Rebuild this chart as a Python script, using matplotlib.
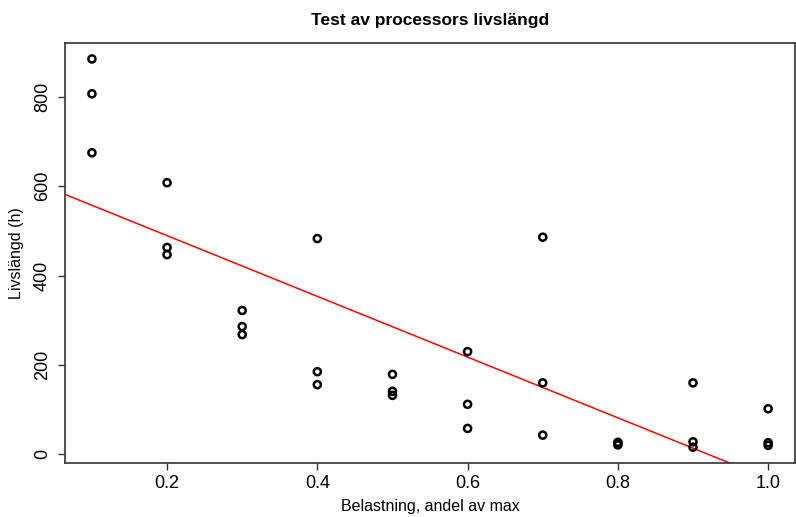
import matplotlib
matplotlib.use("Agg")
import matplotlib.pyplot as plt
import numpy as np

plt.rcParams['font.family'] = ['Liberation Sans', 'DejaVu Sans']

belastning = [0.1, 0.1, 0.1, 0.2, 0.2, 0.2, 0.3, 0.3, 0.3, 0.4, 0.4, 0.4,
              0.5, 0.5, 0.5, 0.6, 0.6, 0.6, 0.7, 0.7, 0.7, 0.8, 0.8, 0.8,
              0.9, 0.9, 0.9, 1.0, 1.0, 1.0]
livslangd = [885, 807, 675, 608, 463, 447, 322, 286, 268, 483, 185, 156,
             179, 141, 132, 230, 112, 58, 486, 160, 43, 21, 24, 27,
             160, 28, 16, 102, 26, 20]
xticks = [0.2, 0.4, 0.6, 0.8, 1.0]
xticklabels = ["0.2", "0.4", "0.6", "0.8", "1.0"]
yticks = [0, 200, 400, 600, 800]

x = np.array(belastning)
y = np.array(livslangd)

fig = plt.figure(figsize=(7.96, 5.17), dpi=100)
ax = fig.add_axes([0.0815, 0.105, 0.9175, 0.811])

ax.scatter(x, y, s=26, facecolors='none', edgecolors='black', linewidths=1.8, zorder=3)

xr = x.max() - x.min()
yr = y.max() - y.min()
xlim = (x.min() - 0.04 * xr, x.max() + 0.04 * xr)
ylim = (y.min() - 0.04 * yr, y.max() + 0.04 * yr)
ax.set_xlim(xlim)
ax.set_ylim(ylim)

b, a = np.polyfit(x, y, 1)
xx = np.array(xlim)
ax.plot(xx, a + b * xx, color='red', lw=1.1, zorder=2)

ax.set_xticks(xticks)
ax.set_xticklabels(xticklabels)
ax.set_yticks(yticks)
ax.set_yticklabels([str(v) for v in yticks], rotation=90, va='center')
ax.tick_params(axis='both', labelsize=13, length=5, width=1, color='#333333')
ax.tick_params(axis='x', pad=4)
ax.tick_params(axis='y', pad=5)
for s in ax.spines.values():
    s.set_linewidth(1.2)
    s.set_color('#333333')

ax.set_xlabel("Belastning, andel av max", fontsize=11.5, labelpad=5)
ax.set_ylabel("Livslängd (h)", fontsize=11.5, labelpad=7)
ax.set_title("Test av processors livslängd", fontsize=12.5, fontweight='bold', pad=13)

fig.savefig("out.png", dpi=100)
